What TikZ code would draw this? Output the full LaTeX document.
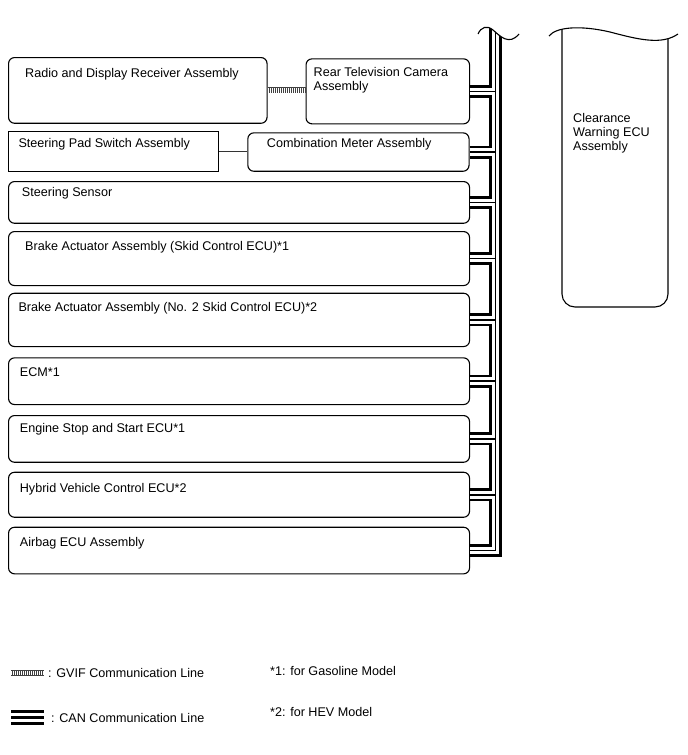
\documentclass[tikz,border=0pt]{standalone}
\usepackage{fontspec}
\setmainfont{Liberation Sans}
\usepackage{tikz}
\usetikzlibrary{positioning}
\tikzset{
  ecu/.style={draw, rounded corners=6pt, line width=1.1pt, anchor=north west, inner sep=0pt},
  padbox/.style={draw, line width=1.1pt, anchor=north west, inner sep=0pt},
  txt/.style={anchor=base west, inner sep=0pt, font=\fontsize{12.6}{14}\selectfont},
  gvifout/.style={line width=6pt, black!75},
  gvifin/.style={line width=4.2pt, white, dash pattern=on 1pt off 1pt},
  outline/.style={line width=1.1pt}
}
\begin{document}
\begin{tikzpicture}[x=1pt,y=-1pt]
\useasboundingbox (0,0) rectangle (688,755);
% boxes
\node[ecu, minimum width=258.5pt, minimum height=65.7pt] (radio) at (8,57) {};
\node[ecu, minimum width=163.5pt, minimum height=65pt] (rtv) at (305.5,58.3) {};
\node[padbox, minimum width=210.3pt, minimum height=39.7pt] (pad) at (8,131) {};
\node[ecu, minimum width=221.2pt, minimum height=38.4pt] (meter) at (247.3,132.3) {};
\node[ecu, minimum width=461pt, minimum height=41.7pt] (sensor) at (8,181) {};
\node[ecu, minimum width=461pt, minimum height=54pt] (brakeA) at (8,231) {};
\node[ecu, minimum width=461pt, minimum height=53.3pt] (brakeB) at (8,292.7) {};
\node[ecu, minimum width=461pt, minimum height=46.7pt] (ecm) at (8,357.3) {};
\node[ecu, minimum width=461pt, minimum height=46.7pt] (engine) at (8,415) {};
\node[ecu, minimum width=461pt, minimum height=45pt] (hybrid) at (8,471.7) {};
\node[ecu, minimum width=461pt, minimum height=46.6pt] (airbag) at (8,526.7) {};
% box texts
\node[txt] (radioT) at ([shift={(17,20)}]radio.north west) {Radio and Display Receiver Assembly};
\node[txt, anchor=north west, align=left, font=\fontsize{12.6}{13.3}\selectfont] (rtvT) at ([shift={(8,9.2)}]rtv.north west) {Rear Television Camera\\Assembly};
\node[txt] (padT) at ([shift={(10.3,16)}]pad.north west) {Steering Pad Switch Assembly};
\node[txt] (meterT) at ([shift={(19.4,15.4)}]meter.north west) {Combination Meter Assembly};
\node[txt] (sensorT) at ([shift={(13.7,15.7)}]sensor.north west) {Steering Sensor};
\node[txt] (brakeAT) at ([shift={(17,19)}]brakeA.north west) {Brake Actuator Assembly (Skid Control ECU)*1};
\node[txt] (brakeBT) at ([shift={(10.3,19)}]brakeB.north west) {Brake Actuator Assembly (No. 2 Skid Control ECU)*2};
\node[txt] (ecmT) at ([shift={(11.7,18.7)}]ecm.north west) {ECM*1};
\node[txt] (engineT) at ([shift={(11.7,17.7)}]engine.north west) {Engine Stop and Start ECU*1};
\node[txt] (hybridT) at ([shift={(11.7,21)}]hybrid.north west) {Hybrid Vehicle Control ECU*2};
\node[txt] (airbagT) at ([shift={(11.7,19.3)}]airbag.north west) {Airbag ECU Assembly};
% clearance warning ecu, cut off at the top
\draw[outline, rounded corners=13pt] (562,29) -- (562,307) -- (668,307) -- (668,39);
\draw[outline] (549,36) .. controls (556,27) and (580,25) .. (610,32) .. controls (640,40) and (662,45) .. (678,34);
\node[txt, anchor=north west, align=left] (cwecuT) at (573,113.3) {Clearance\\Warning ECU\\Assembly};
% gvif and the plain line
\draw[gvifout] (radio.east) -- (radio.east -| rtv.west);
\draw[gvifin] (radio.east) -- (radio.east -| rtv.west);
\draw[line width=1pt, black!80] (pad.east) -- (pad.east -| meter.west);
% can bus
\coordinate (bus) at (495.5,20);
\begin{scope}
\clip (478,34) .. controls (481,27) and (487,25) .. (493,30) .. controls (500,36) and (509,46) .. (519,34) -- (530,600) -- (460,600) -- (460,34) -- cycle;
\foreach \lw/\col in {13/black,7.5/white,1.5/black} {
  \foreach \n in {rtv,meter,sensor,brakeA,brakeB,ecm,engine,hybrid}
    \draw[line width=\lw pt, \col] (\n.east) -- (\n.east -| bus);
  \draw[line width=\lw pt, \col] (airbag.east) -- (airbag.east -| bus) -- (bus);
}
\end{scope}
\draw[outline] (478,34) .. controls (481,27) and (487,25) .. (493,30) .. controls (500,36) and (509,46) .. (519,34);
% legend
\coordinate (gvifL) at (11,673);
\coordinate (gvifR) at (44,673);
\draw[gvifout] (gvifL) -- (gvifR);
\draw[gvifin] (gvifL) -- (gvifR);
\node[txt] (gvifT) at (48,677.3) {: GVIF Communication Line};
\coordinate (canL) at (11,717.5);
\coordinate (canR) at (44,717.5);
\foreach \lw/\col in {15.5/black,9.3/white,3.3/black}
  \draw[line width=\lw pt, \col] (canL) -- (canR);
\node[txt] (canT) at (51,722.7) {: CAN Communication Line};
\node[txt] (noteA) at (270,675.5) {*1: for Gasoline Model};
\node[txt] (noteB) at (270,716.5) {*2: for HEV Model};
\end{tikzpicture}
\end{document}
